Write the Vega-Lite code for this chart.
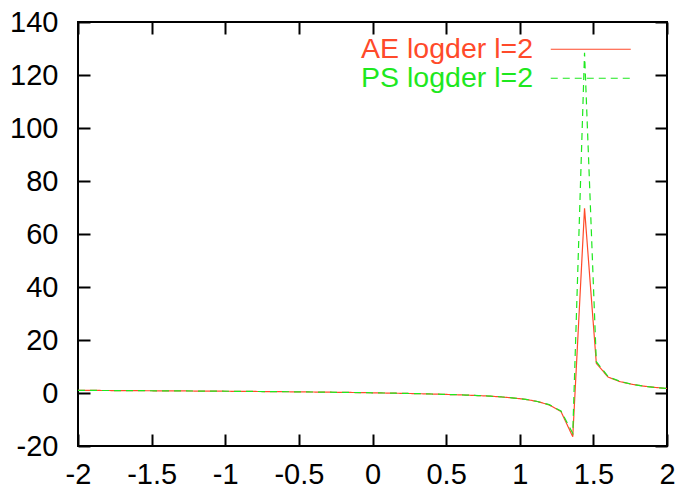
{
  "$schema": "https://vega.github.io/schema/vega-lite/v6.json",
  "width": 589,
  "height": 424,
  "autosize": {"type": "none"},
  "padding": {"left": 78, "top": 22, "right": 15, "bottom": 46},
  "background": "white",
  "config": {
    "font": "Liberation Sans",
    "view": {"stroke": "black", "strokeWidth": 2},
    "axis": {
      "domain": false,
      "grid": false,
      "ticks": true,
      "tickColor": "black",
      "tickWidth": 2,
      "tickSize": -12,
      "labelColor": "black",
      "labelFont": "Liberation Sans",
      "labelFontSize": 29,
      "labelExpr": "'' + datum.value",
      "title": null
    },
    "legend": {
      "title": null,
      "orient": "none",
      "legendX": 498.5,
      "legendY": 13,
      "symbolType": "M-4,0H4",
      "symbolSize": 400,
      "symbolStrokeWidth": 1.2,
      "labelFontSize": 28.5,
      "labelFont": "Liberation Sans",
      "labelAlign": "right",
      "labelOffset": -72,
      "labelLimit": 400,
      "rowPadding": 0
    }
  },
  "data": {
    "values": [
      {"x": -2.00, "series": "AE logder l=2", "y": 1.00}, {"x": -2.00, "series": "PS logder l=2", "y": 1.00},
      {"x": -1.92, "series": "AE logder l=2", "y": 0.98}, {"x": -1.92, "series": "PS logder l=2", "y": 0.98},
      {"x": -1.84, "series": "AE logder l=2", "y": 0.95}, {"x": -1.84, "series": "PS logder l=2", "y": 0.95},
      {"x": -1.76, "series": "AE logder l=2", "y": 0.93}, {"x": -1.76, "series": "PS logder l=2", "y": 0.93},
      {"x": -1.68, "series": "AE logder l=2", "y": 0.90}, {"x": -1.68, "series": "PS logder l=2", "y": 0.90},
      {"x": -1.60, "series": "AE logder l=2", "y": 0.88}, {"x": -1.60, "series": "PS logder l=2", "y": 0.88},
      {"x": -1.52, "series": "AE logder l=2", "y": 0.85}, {"x": -1.52, "series": "PS logder l=2", "y": 0.85},
      {"x": -1.44, "series": "AE logder l=2", "y": 0.82}, {"x": -1.44, "series": "PS logder l=2", "y": 0.82},
      {"x": -1.36, "series": "AE logder l=2", "y": 0.80}, {"x": -1.36, "series": "PS logder l=2", "y": 0.80},
      {"x": -1.28, "series": "AE logder l=2", "y": 0.77}, {"x": -1.28, "series": "PS logder l=2", "y": 0.77},
      {"x": -1.20, "series": "AE logder l=2", "y": 0.74}, {"x": -1.20, "series": "PS logder l=2", "y": 0.74},
      {"x": -1.12, "series": "AE logder l=2", "y": 0.71}, {"x": -1.12, "series": "PS logder l=2", "y": 0.71},
      {"x": -1.04, "series": "AE logder l=2", "y": 0.68}, {"x": -1.04, "series": "PS logder l=2", "y": 0.68},
      {"x": -0.96, "series": "AE logder l=2", "y": 0.65}, {"x": -0.96, "series": "PS logder l=2", "y": 0.65},
      {"x": -0.88, "series": "AE logder l=2", "y": 0.61}, {"x": -0.88, "series": "PS logder l=2", "y": 0.61},
      {"x": -0.80, "series": "AE logder l=2", "y": 0.58}, {"x": -0.80, "series": "PS logder l=2", "y": 0.58},
      {"x": -0.72, "series": "AE logder l=2", "y": 0.54}, {"x": -0.72, "series": "PS logder l=2", "y": 0.54},
      {"x": -0.64, "series": "AE logder l=2", "y": 0.50}, {"x": -0.64, "series": "PS logder l=2", "y": 0.50},
      {"x": -0.56, "series": "AE logder l=2", "y": 0.46}, {"x": -0.56, "series": "PS logder l=2", "y": 0.46},
      {"x": -0.48, "series": "AE logder l=2", "y": 0.42}, {"x": -0.48, "series": "PS logder l=2", "y": 0.42},
      {"x": -0.40, "series": "AE logder l=2", "y": 0.37}, {"x": -0.40, "series": "PS logder l=2", "y": 0.37},
      {"x": -0.32, "series": "AE logder l=2", "y": 0.32}, {"x": -0.32, "series": "PS logder l=2", "y": 0.32},
      {"x": -0.24, "series": "AE logder l=2", "y": 0.27}, {"x": -0.24, "series": "PS logder l=2", "y": 0.27},
      {"x": -0.16, "series": "AE logder l=2", "y": 0.21}, {"x": -0.16, "series": "PS logder l=2", "y": 0.21},
      {"x": -0.08, "series": "AE logder l=2", "y": 0.15}, {"x": -0.08, "series": "PS logder l=2", "y": 0.15},
      {"x": 0.00, "series": "AE logder l=2", "y": 0.08}, {"x": 0.00, "series": "PS logder l=2", "y": 0.08},
      {"x": 0.08, "series": "AE logder l=2", "y": 0.00}, {"x": 0.08, "series": "PS logder l=2", "y": 0.00},
      {"x": 0.16, "series": "AE logder l=2", "y": -0.08}, {"x": 0.16, "series": "PS logder l=2", "y": -0.08},
      {"x": 0.24, "series": "AE logder l=2", "y": -0.17}, {"x": 0.24, "series": "PS logder l=2", "y": -0.17},
      {"x": 0.32, "series": "AE logder l=2", "y": -0.27}, {"x": 0.32, "series": "PS logder l=2", "y": -0.27},
      {"x": 0.40, "series": "AE logder l=2", "y": -0.38}, {"x": 0.40, "series": "PS logder l=2", "y": -0.38},
      {"x": 0.48, "series": "AE logder l=2", "y": -0.50}, {"x": 0.48, "series": "PS logder l=2", "y": -0.50},
      {"x": 0.56, "series": "AE logder l=2", "y": -0.64}, {"x": 0.56, "series": "PS logder l=2", "y": -0.64},
      {"x": 0.64, "series": "AE logder l=2", "y": -0.80}, {"x": 0.64, "series": "PS logder l=2", "y": -0.80},
      {"x": 0.72, "series": "AE logder l=2", "y": -0.98}, {"x": 0.72, "series": "PS logder l=2", "y": -0.98},
      {"x": 0.80, "series": "AE logder l=2", "y": -1.20}, {"x": 0.80, "series": "PS logder l=2", "y": -1.20},
      {"x": 0.88, "series": "AE logder l=2", "y": -1.50}, {"x": 0.88, "series": "PS logder l=2", "y": -1.50},
      {"x": 0.96, "series": "AE logder l=2", "y": -1.90}, {"x": 0.96, "series": "PS logder l=2", "y": -1.90},
      {"x": 1.04, "series": "AE logder l=2", "y": -2.40}, {"x": 1.04, "series": "PS logder l=2", "y": -2.40},
      {"x": 1.12, "series": "AE logder l=2", "y": -3.20}, {"x": 1.12, "series": "PS logder l=2", "y": -3.20},
      {"x": 1.20, "series": "AE logder l=2", "y": -4.50}, {"x": 1.20, "series": "PS logder l=2", "y": -4.40},
      {"x": 1.28, "series": "AE logder l=2", "y": -7.00}, {"x": 1.28, "series": "PS logder l=2", "y": -6.80},
      {"x": 1.36, "series": "AE logder l=2", "y": -16.5}, {"x": 1.36, "series": "PS logder l=2", "y": -15.2},
      {"x": 1.44, "series": "AE logder l=2", "y": 69.7}, {"x": 1.44, "series": "PS logder l=2", "y": 128.4},
      {"x": 1.52, "series": "AE logder l=2", "y": 11.2}, {"x": 1.52, "series": "PS logder l=2", "y": 11.8},
      {"x": 1.60, "series": "AE logder l=2", "y": 6.0}, {"x": 1.60, "series": "PS logder l=2", "y": 6.2},
      {"x": 1.68, "series": "AE logder l=2", "y": 4.3}, {"x": 1.68, "series": "PS logder l=2", "y": 4.4},
      {"x": 1.76, "series": "AE logder l=2", "y": 3.3}, {"x": 1.76, "series": "PS logder l=2", "y": 3.3},
      {"x": 1.84, "series": "AE logder l=2", "y": 2.6}, {"x": 1.84, "series": "PS logder l=2", "y": 2.6},
      {"x": 1.92, "series": "AE logder l=2", "y": 2.1}, {"x": 1.92, "series": "PS logder l=2", "y": 2.1},
      {"x": 2.00, "series": "AE logder l=2", "y": 1.7}, {"x": 2.00, "series": "PS logder l=2", "y": 1.7}
    ]
  },
  "layer": [
    {
      "mark": {"type": "line", "strokeWidth": 1.2, "clip": true},
      "encoding": {
        "x": {
          "field": "x", "type": "quantitative",
          "scale": {"domain": [-2, 2], "nice": false, "zero": false},
          "axis": {"orient": "bottom", "values": [-2, -1.5, -1, -0.5, 0, 0.5, 1, 1.5, 2], "labelPadding": 26, "labelFlush": false}
        },
        "y": {
          "field": "y", "type": "quantitative",
          "scale": {"domain": [-20, 140], "nice": false, "zero": false},
          "axis": {"orient": "left", "values": [-20, 0, 20, 40, 60, 80, 100, 120, 140], "labelPadding": 32, "labelFlush": false}
        },
        "color": {
          "field": "series", "type": "nominal",
          "scale": {"domain": ["AE logder l=2", "PS logder l=2"], "range": ["#ff4a2a", "#1ee81e"]},
          "legend": {"encode": {"labels": {"update": {"fill": {"scale": "color", "field": "value"}}}}}
        },
        "strokeDash": {
          "field": "series", "type": "nominal",
          "scale": {"domain": ["AE logder l=2", "PS logder l=2"], "range": [[1, 0], [7, 5]]},
          "legend": {"encode": {"labels": {"update": {"fill": {"scale": "color", "field": "value"}}}}}
        }
      }
    },
    {
      "mark": {"type": "line", "opacity": 0},
      "encoding": {
        "x": {
          "field": "x", "type": "quantitative",
          "axis": {"orient": "top", "values": [-2, -1.5, -1, -0.5, 0, 0.5, 1, 1.5, 2], "labels": false}
        },
        "y": {
          "field": "y", "type": "quantitative",
          "axis": {"orient": "right", "values": [-20, 0, 20, 40, 60, 80, 100, 120, 140], "labels": false}
        },
        "detail": {"field": "series", "type": "nominal"}
      }
    }
  ],
  "resolve": {"axis": {"x": "independent", "y": "independent"}}
}
